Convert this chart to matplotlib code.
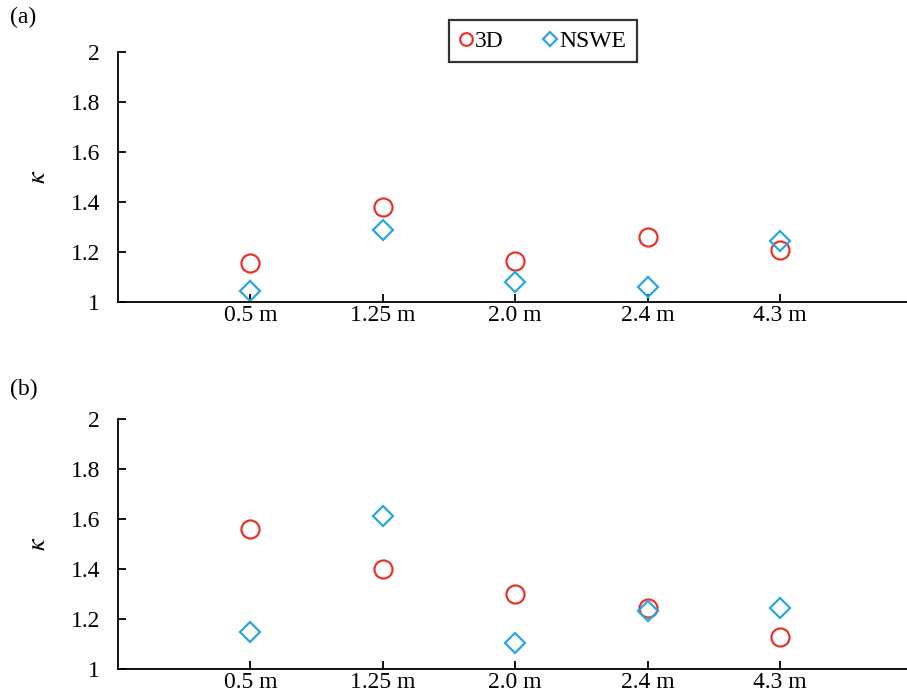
import matplotlib
matplotlib.use("Agg")
import matplotlib.pyplot as plt

plt.rcParams['font.family'] = ['Liberation Serif', 'DejaVu Serif']
plt.rcParams['mathtext.fontset'] = 'stix'

categories = ['0.5 m', '1.25 m', '2.0 m', '2.4 m', '4.3 m']
a_3d = [1.156, 1.38, 1.164, 1.26, 1.208]
a_nswe = [1.044, 1.288, 1.08, 1.06, 1.244]
b_3d = [1.56, 1.40, 1.30, 1.244, 1.128]
b_nswe = [1.148, 1.612, 1.104, 1.232, 1.244]

RED = '#E8332C'
BLUE = '#2AA7E0'
FS = 17

fig = plt.figure(figsize=(9.07, 6.95), dpi=100)
W, H = 907, 695


def panel(rect, y3d, ynswe, label, label_y, legend=False):
    l, t, r, b = rect
    ax = fig.add_axes([l / W, 1 - b / H, (r - l) / W, (b - t) / H])
    x = list(range(1, len(categories) + 1))
    ax.plot(x, y3d, 'o', ms=13, mfc='none', mec=RED, mew=1.6, label='3D', clip_on=False)
    ax.plot(x, ynswe, 'D', ms=10, mfc='none', mec=BLUE, mew=1.6, label='NSWE', clip_on=False)
    ax.set_xlim(0, 5.96)
    ax.set_ylim(1, 2)
    ax.set_xticks(x)
    ax.set_xticklabels(categories)
    ax.set_yticks([1, 1.2, 1.4, 1.6, 1.8, 2])
    ax.set_yticklabels(['1', '1.2', '1.4', '1.6', '1.8', '2'])
    ax.tick_params(direction='in', labelsize=FS, length=6, width=1.3)
    ax.tick_params(axis='y', pad=13)
    ax.tick_params(axis='x', pad=2)
    for s in ['top', 'right']:
        ax.spines[s].set_visible(False)
    for s in ['left', 'bottom']:
        ax.spines[s].set_linewidth(1.3)
    ax.set_ylabel(r'$\kappa$', fontsize=19)
    ax.yaxis.set_label_coords((50 - l) / (r - l), 0.5)
    fig.text(10 / W, 1 - label_y / H, label, fontsize=FS, va='center', ha='left')
    if legend:
        leg = ax.legend(loc='center', bbox_to_anchor=((543 - l) / (r - l), (t - 41) / (b - t) + 1),
                        ncol=2, fontsize=FS, frameon=True, fancybox=False,
                        edgecolor='black', markerscale=0.7, handletextpad=0.15,
                        columnspacing=1.7, borderpad=0.45, handlelength=0.5,
                        borderaxespad=0)
        leg.get_frame().set_linewidth(1.6)
    return ax


panel((118, 52, 907, 302), a_3d, a_nswe, '(a)', 17, legend=True)
panel((118, 419, 907, 669), b_3d, b_nswe, '(b)', 389)

fig.savefig('out.png', dpi=100)
